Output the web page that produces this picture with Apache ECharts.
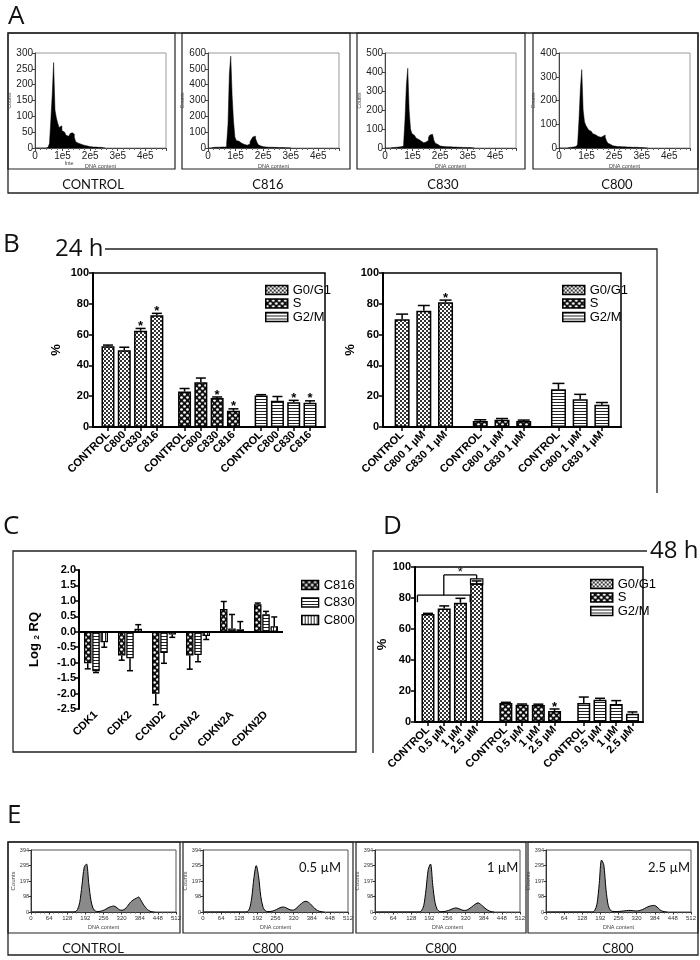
<!DOCTYPE html>
<html><head><meta charset="utf-8">
<script src="https://cdn.jsdelivr.net/npm/echarts@6/dist/echarts.min.js"></script>
<style>html,body{margin:0;padding:0;background:#fff}#c{width:700px;height:960px}</style>
</head><body><div id="c"></div>
<script>
// ================= DATA =================
// Panel A: flow cytometry histograms (bins of A_BIN, counts)
const A_LABELS = ['CONTROL','C816','C830','C800'];
const A_BIN = 5000;
const A_YMAX = [300,600,500,400];
const A_YSTEP = [50,100,100,100];
const A_CONTROL = [0,0,0,0,0,0,0,0,0,0, 2,15,90,170,270,120,95,78,65,70, 55,50,44,40,37,42,46,48,44,34, 20,15,12,12,10,9,8,7,6,5, 5,4,4,3,3,3,2,2,2,1, 1,0];
const A_C816 = [0,0,0,0,3,4,4,5,5,5, 6,6,6,8,25,150,470,580,330,170, 70,48,42,36,30,26,22,19,18,20, 26,40,55,70,75,60,36,20,12,10, 8,7,6,6,5,5,5,4,4,4, 4,3,3,3,3,3,2,2,2,2, 1,0];
const A_C830 = [0,0,0,0,0,0,2,3,3,4, 5,6,7,10,22,150,330,420,200,100, 76,66,60,52,45,40,35,30,28,28, 30,40,55,68,72,62,40,25,18,14, 11,9,8,8,7,7,6,6,6,5, 5,5,4,4,4,4,3,3,3,3, 2,2,2,1,1,0];
const A_C800 = [0,0,0,0,0,0,0,0,2,3, 4,5,6,8,16,120,250,330,160,110, 95,85,76,70,65,60,56,52,48,46, 45,48,50,55,45,30,20,15,12,10, 8,7,6,6,6,5,5,5,5,4, 4,4,4,3,3,3,3,3,2,2, 2,2,1,1,1,0];

// Panel B / D: cell-cycle phase percentages
const PHASES = ['G0/G1','S','G2/M'];
const B24_CATS = ['CONTROL','C800','C830','C816'];
const B24_G1 = [52.5,49.8,62.5,72.5], B24_G1_ERR = [0.7,2.0,1.5,1.3], B24_G1_SIG = [0,0,1,1];
const B24_S  = [23.0,29.0,18.8,10.5], B24_S_ERR  = [2.0,2.8,0.7,1.3], B24_S_SIG  = [0,0,1,1];
const B24_G2 = [20.5,17.0,16.0,15.8], B24_G2_ERR = [0.5,2.8,1.3,1.2], B24_G2_SIG = [0,0,1,1];

const B1UM_CATS = ['CONTROL','C800 1 µM','C830 1 µM'];
const B1UM_G1 = [70.0,75.5,81.0], B1UM_G1_ERR = [3.3,3.4,1.4], B1UM_G1_SIG = [0,0,1];
const B1UM_S  = [3.9,4.7,3.9],    B1UM_S_ERR  = [0.8,0.8,0.6], B1UM_S_SIG  = [0,0,0];
const B1UM_G2 = [24.5,18.0,14.5], B1UM_G2_ERR = [3.8,3.2,1.4], B1UM_G2_SIG = [0,0,0];

const D48_CATS = ['CONTROL','0.5 µM','1 µM','2.5 µM'];
const D48_G1 = [69.7,73.3,77.0,89.5], D48_G1_ERR = [0.4,1.6,2.8,1.5], D48_G1_SIG = [0,0,0,0];
const D48_S  = [12.3,11.2,11.0,7.1],  D48_S_ERR  = [0.4,0.4,0.5,1.3], D48_S_SIG  = [0,0,0,1];
const D48_G2 = [12.3,14.4,11.6,5.4],  D48_G2_ERR = [3.8,0.9,2.2,1.1], D48_G2_SIG = [0,0,0,0];

// Panel C: gene expression Log2 RQ
const C_GENES = ['CDK1','CDK2','CCND2','CCNA2','CDKN2A','CDKN2D'];
const C_NAMES = ['C816','C830','C800'];
const C_C816 = [-1.02,-0.77,-2.01,-0.77,0.74,0.89], C_C816_ERR = [0.18,0.15,0.35,0.44,0.24,0.04];
const C_C830 = [-1.28,-0.86,-0.69,-0.75,0.11,0.57], C_C830_ERR = [0.04,0.40,0.33,0.22,0.45,0.09];
const C_C800 = [-0.34,0.10,-0.09,-0.14,0.08,0.18],  C_C800_ERR = [0.16,0.13,0.09,0.11,0.25,0.30];

// Panel E: DNA content histograms (bins of E_BIN)
const E_LABELS = ['CONTROL','C800','C800','C800'];
const E_CONC = ['','0.5 µM','1 µM','2.5 µM'];
const E_BIN = 8;
const E_YTICKS = [0,98,197,295,394];
const E_CONTROL = [0,0,0,0,0,0,0,0,0,0, 0,0,0,0,0,0,0,0,0,2, 15,60,170,285,305,180,70,20,6,3, 4,8,14,22,30,35,38,32,20,12, 12,20,35,55,70,80,88,95,75,50, 30,15,5,1,0];
const E_05 = [0,0,0,0,0,0,0,0,0,0, 0,0,0,0,0,0,0,0,0,2, 20,90,220,295,230,100,30,8,3,3, 5,10,16,24,30,32,28,20,14,12, 16,28,42,55,65,68,62,50,35,20, 10,4,1,0];
const E_1 = [0,0,0,0,0,0,0,0,0,0, 0,0,0,0,0,0,0,0,0,0, 8,40,140,270,305,170,60,15,4,2, 3,6,10,16,22,26,24,18,12,10, 12,20,30,42,52,58,50,38,25,14, 6,2,0];
const E_25 = [0,0,0,0,0,0,0,0,0,0, 0,0,0,0,0,0,0,0,0,0, 0,10,50,180,330,300,140,40,10,4, 3,3,4,5,7,9,10,10,8,7, 7,10,15,22,30,36,40,42,38,25, 12,5,1,0];

// ================= STYLE HELPERS =================
const FF = '"Liberation Sans", Arial, sans-serif';
function mkPattern(w,h,draw){const c=document.createElement('canvas');c.width=w;c.height=h;const g=c.getContext('2d');draw(g);return {image:c,repeat:'repeat'};}
const PAT = {
  'G0/G1': mkPattern(4,4,g=>{g.fillStyle='#fff';g.fillRect(0,0,4,4);g.fillStyle='#333';g.fillRect(0,0,2,2);g.fillRect(2,2,2,2);}),
  'S': mkPattern(6,6,g=>{g.fillStyle='#111';g.fillRect(0,0,6,6);g.fillStyle='#fff';g.beginPath();g.arc(1.5,1.5,1.35,0,7);g.fill();g.beginPath();g.arc(4.5,4.5,1.35,0,7);g.fill();}),
  'G2/M': mkPattern(4,3,g=>{g.fillStyle='#fff';g.fillRect(0,0,4,3);g.fillStyle='#222';g.fillRect(0,0,4,1);}),
  'V': mkPattern(3,4,g=>{g.fillStyle='#fff';g.fillRect(0,0,3,4);g.fillStyle='#222';g.fillRect(0,0,1,4);})
};
const C_PAT = [PAT['S'], PAT['G2/M'], PAT['V']];

const option = {animation:false, textStyle:{fontFamily:FF}, grid:[], xAxis:[], yAxis:[], series:[], legend:[], graphic:{elements:[]}};
const G = option.graphic.elements;
function addGrid(g){option.grid.push(g);return option.grid.length-1;}

function errRenderer(capHalf, offsets){
  return function(params, api){
    const x=api.value(0), y=api.value(1), e=api.value(2), sig=api.value(3);
    const dx = offsets ? offsets[api.value(4)] : 0;
    const dir = y<0 ? -1 : 1;
    const p0=api.coord([x,y]), p1=api.coord([x,y+dir*e]);
    const X=p0[0]+dx;
    const ch=[
      {type:'line',shape:{x1:X,y1:p0[1],x2:X,y2:p1[1]},style:{stroke:'#000',lineWidth:1.5}},
      {type:'line',shape:{x1:X-capHalf,y1:p1[1],x2:X+capHalf,y2:p1[1]},style:{stroke:'#000',lineWidth:1.5}}
    ];
    if(sig) ch.push({type:'text',style:{text:'*',x:X,y:p1[1]-2,align:'center',verticalAlign:'middle',textAlign:'center',textVerticalAlign:'middle',font:'bold 13px '+FF,fill:'#000'}});
    return {type:'group',children:ch};
  };
}

// ================= PANEL A =================
const A_DATA=[A_CONTROL,A_C816,A_C830,A_C800];
const A_LEFT=[35,208,385,559];
A_DATA.forEach((arr,k)=>{
  const gi=addGrid({left:A_LEFT[k],top:53,width:131,height:95,show:true,borderColor:'#9a9a9a',borderWidth:1});
  option.xAxis.push({gridIndex:gi,type:'value',min:0,max:475000,interval:100000,
    axisLine:{onZero:false,lineStyle:{color:'#444',width:1}},axisTick:{length:3,lineStyle:{color:'#444'}},
    minorTick:{show:true,splitNumber:5,length:2,lineStyle:{color:'#666'}},splitLine:{show:false},
    axisLabel:{fontSize:10,color:'#222',margin:3,formatter:v=>v%100000?'':(v===0?'0':(v/100000)+'e5')},
    name:'DNA content',nameLocation:'middle',nameGap:15,nameTextStyle:{fontSize:5.5,color:'#444'}});
  option.yAxis.push({gridIndex:gi,type:'value',min:0,max:A_YMAX[k],interval:A_YSTEP[k],
    axisLine:{show:true,onZero:false,lineStyle:{color:'#444',width:1}},axisTick:{show:true,length:3,lineStyle:{color:'#444'}},
    splitLine:{show:false},axisLabel:{fontSize:10,color:'#222',margin:2},
    name:'Counts',nameLocation:'middle',nameGap:17,nameTextStyle:{fontSize:5,color:'#444'}});
  option.series.push({type:'line',xAxisIndex:gi,yAxisIndex:gi,step:'middle',symbol:'none',silent:true,
    data:arr.map((v,i)=>[i*A_BIN,v]),lineStyle:{color:'#000',width:0.5},areaStyle:{color:'#000',opacity:1}});
});
G.push({type:'rect',shape:{x:8,y:33,width:690,height:160},style:{fill:'none',stroke:'#222',lineWidth:1.3},silent:true});
[[8,167],[182,168],[357,168],[533,165]].forEach(([x,w])=>G.push({type:'rect',shape:{x:x,y:33,width:w,height:136},style:{fill:'none',stroke:'#222',lineWidth:1.2},silent:true}));
const A_LBLX=[93,268,443,617];
A_LABELS.forEach((t,k)=>G.push({type:'text',x:A_LBLX[k],y:185,style:{text:t,fontSize:13,fontFamily:'Lato',fill:'#111',align:'center',verticalAlign:'middle'},silent:true}));
G.push({type:'text',x:69,y:163,style:{text:'Inte',fontSize:5.5,fill:'#444',align:'center',verticalAlign:'middle'},silent:true});

// ================= BAR PANELS (B, D) =================
function barPanel(p){
  const nPer=p.cats.length;
  const pos=p.groups.map((_,g)=>p.cats.map((_,i)=>g*(nPer+p.gap)+i));
  const flat=pos.flat();
  const lab={};pos.forEach(pp=>pp.forEach((x,i)=>lab[x.toFixed(2)]=p.cats[i]));
  const gi=addGrid({left:p.left,top:p.top,width:p.width,height:p.height,show:true,borderColor:'#000',borderWidth:1.5});
  option.xAxis.push({gridIndex:gi,type:'value',min:-p.mL,max:flat[flat.length-1]+p.mR,splitLine:{show:false},
    axisLine:{onZero:false,lineStyle:{color:'#000',width:2}},
    axisTick:{customValues:flat,length:4,lineStyle:{color:'#000',width:1.5}},
    axisLabel:{customValues:flat,formatter:v=>lab[(+v).toFixed(2)]||'',rotate:45,fontWeight:'bold',fontSize:11,color:'#000',margin:6}});
  option.yAxis.push({gridIndex:gi,type:'value',min:0,max:100,interval:20,splitLine:{show:false},
    axisLine:{show:true,onZero:false,lineStyle:{color:'#000',width:2}},axisTick:{show:true,length:4,lineStyle:{color:'#000',width:1.5}},
    axisLabel:{fontWeight:'bold',fontSize:11,color:'#000',margin:4},
    name:'%',nameLocation:'middle',nameGap:p.nameGap,nameTextStyle:{fontWeight:'bold',fontSize:13,color:'#000'}});
  p.groups.forEach((grp,g)=>option.series.push({type:'bar',name:PHASES[g],xAxisIndex:gi,yAxisIndex:gi,barWidth:p.barW,barGap:'-100%',
    itemStyle:{color:PAT[PHASES[g]],borderColor:'#000',borderWidth:1.5},data:grp.v.map((v,i)=>[pos[g][i],v])}));
  option.series.push({type:'custom',xAxisIndex:gi,yAxisIndex:gi,z:5,silent:true,renderItem:errRenderer(p.cap),
    data:p.groups.flatMap((grp,g)=>grp.v.map((v,i)=>[pos[g][i],v,grp.e[i],grp.s[i]]))});
  option.legend.push({data:PHASES,orient:'vertical',left:p.leg[0],top:p.leg[1],itemWidth:22,itemHeight:9,itemGap:0.5,icon:'rect',selectedMode:false,
    itemStyle:{borderColor:'#000',borderWidth:1.5},textStyle:{fontSize:13,color:'#000',lineHeight:11}});
  return {gi,pos};
}
barPanel({left:93,top:273,width:232,height:154,cats:B24_CATS,gap:0.7,mL:0.92,mR:0.92,barW:13,cap:5,nameGap:30,leg:[260,278.5],
  groups:[{v:B24_G1,e:B24_G1_ERR,s:B24_G1_SIG},{v:B24_S,e:B24_S_ERR,s:B24_S_SIG},{v:B24_G2,e:B24_G2_ERR,s:B24_G2_SIG}]});
barPanel({left:383,top:273,width:238,height:154,cats:B1UM_CATS,gap:0.6,mL:0.88,mR:0.88,barW:15,cap:6,nameGap:24,leg:[557,278.5],
  groups:[{v:B1UM_G1,e:B1UM_G1_ERR,s:B1UM_G1_SIG},{v:B1UM_S,e:B1UM_S_ERR,s:B1UM_S_SIG},{v:B1UM_G2,e:B1UM_G2_ERR,s:B1UM_G2_SIG}]});
const D=barPanel({left:415,top:567,width:228,height:155,cats:D48_CATS,gap:0.8,mL:0.8,mR:0.65,barW:13,cap:5,nameGap:25,leg:[585,572.5],
  groups:[{v:D48_G1,e:D48_G1_ERR,s:D48_G1_SIG},{v:D48_S,e:D48_S_ERR,s:D48_S_SIG},{v:D48_G2,e:D48_G2_ERR,s:D48_G2_SIG}]});
// D significance bracket (derived from G0/G1 data)
(function(){
  const p=D.pos[0];
  const yMid=Math.max(...[0,1,2].map(i=>D48_G1[i]+D48_G1_ERR[i]))+2;
  const boxTop=D48_G1[3]+D48_G1_ERR[3]+1.3, boxBot=D48_G1[3]-0.5;
  const yTop=boxTop+2.6;
  option.series.push({type:'custom',xAxisIndex:D.gi,yAxisIndex:D.gi,z:6,silent:true,data:[[p[0],yMid]],
    renderItem:function(params,api){
      const P=(x,y)=>api.coord([x,y]);
      const bx0=p[0]-0.65,bx1=p[2]+0.6,mid=(bx0+bx1)/2,t=p[3];
      const L=(a,b)=>({type:'line',shape:{x1:a[0],y1:a[1],x2:b[0],y2:b[1]},style:{stroke:'#000',lineWidth:1.3}});
      const r0=P(t-0.38,boxTop),r1=P(t+0.38,boxBot);
      const s=P((mid+t)/2,yTop);
      return {type:'group',children:[
        L(P(bx0,yMid-4.5),P(bx0,yMid)),L(P(bx0,yMid),P(bx1,yMid)),L(P(bx1,yMid),P(bx1,yMid-4.5)),
        L(P(mid,yMid),P(mid,yTop)),L(P(mid,yTop),P(t,yTop)),L(P(t,yTop),P(t,boxTop)),
        {type:'rect',shape:{x:r0[0],y:r0[1],width:r1[0]-r0[0],height:r1[1]-r0[1]},style:{fill:'none',stroke:'#000',lineWidth:1.2}},
        {type:'text',style:{text:'*',x:s[0],y:s[1]-2,align:'center',verticalAlign:'middle',textAlign:'center',textVerticalAlign:'middle',font:'13px '+FF,fill:'#000'}}
      ]};
    }});
})();

// ================= PANEL C =================
(function(){
  const gi=addGrid({left:79,top:570,width:204,height:139});
  option.xAxis.push({gridIndex:gi,type:'category',data:C_GENES,axisLine:{show:false,onZero:false},axisTick:{show:false},
    axisLabel:{rotate:45,interval:0,fontWeight:'bold',fontSize:11,color:'#000',margin:4}});
  option.yAxis.push({gridIndex:gi,type:'value',min:-2.5,max:2,interval:0.5,splitLine:{show:false},
    axisLine:{show:true,onZero:false,lineStyle:{color:'#000',width:2}},axisTick:{show:true,length:4,lineStyle:{color:'#000',width:1.5}},
    axisLabel:{fontWeight:'bold',fontSize:11,color:'#000',margin:3,formatter:v=>(+v).toFixed(1)},
    name:'Log {s|2} RQ',nameLocation:'middle',nameGap:38,
    nameTextStyle:{fontWeight:'bold',fontSize:13,color:'#000',rich:{s:{fontSize:8,fontWeight:'bold',verticalAlign:'bottom',color:'#000'}}}});
  const vals=[C_C816,C_C830,C_C800], errs=[C_C816_ERR,C_C830_ERR,C_C800_ERR];
  const bw=7.5;
  vals.forEach((v,k)=>{
    const s={type:'bar',name:C_NAMES[k],xAxisIndex:gi,yAxisIndex:gi,barWidth:bw,barGap:'10%',
      itemStyle:{color:C_PAT[k],borderColor:'#000',borderWidth:1.3},data:v};
    if(k===0) s.markLine={silent:true,symbol:'none',label:{show:false},lineStyle:{color:'#000',width:2,type:'solid'},data:[{yAxis:0}]};
    option.series.push(s);
  });
  const step=bw*1.1;
  option.series.push({type:'custom',xAxisIndex:gi,yAxisIndex:gi,z:5,silent:true,renderItem:errRenderer(3,[-step,0,step]),
    data:vals.flatMap((v,k)=>v.map((y,i)=>[i,y,errs[k][i],0,k]))});
  option.legend.push({data:C_NAMES,orient:'vertical',left:296,top:573.5,itemWidth:17,itemHeight:9,itemGap:4.5,icon:'rect',selectedMode:false,
    itemStyle:{borderColor:'#000',borderWidth:1.3},textStyle:{fontSize:13,color:'#000',lineHeight:11}});
})();

// ================= PANEL E =================
const E_DATA=[E_CONTROL,E_05,E_1,E_25];
const E_LEFT=[31,203,375,546];
E_DATA.forEach((arr,k)=>{
  const gi=addGrid({left:E_LEFT[k],top:850,width:145,height:62,show:true,borderColor:'#555',borderWidth:1});
  option.xAxis.push({gridIndex:gi,type:'value',min:0,max:512,interval:64,splitLine:{show:false},
    axisLine:{onZero:false,lineStyle:{color:'#333',width:1}},axisTick:{length:2.5,lineStyle:{color:'#333'}},
    minorTick:{show:true,splitNumber:4,length:1.5,lineStyle:{color:'#555'}},
    axisLabel:{fontSize:6,color:'#333',margin:3},
    name:'DNA content',nameLocation:'middle',nameGap:12,nameTextStyle:{fontSize:5.5,color:'#444'}});
  option.yAxis.push({gridIndex:gi,type:'value',min:0,max:394,splitLine:{show:false},
    axisLine:{show:true,onZero:false,lineStyle:{color:'#333',width:1}},
    axisTick:{show:true,length:2.5,customValues:E_YTICKS,lineStyle:{color:'#333'}},
    axisLabel:{fontSize:5.5,color:'#333',margin:2,customValues:E_YTICKS},
    name:'Counts',nameLocation:'middle',nameGap:12,nameTextStyle:{fontSize:6,color:'#444'}});
  option.series.push({type:'line',xAxisIndex:gi,yAxisIndex:gi,smooth:0.3,symbol:'none',silent:true,
    data:arr.map((v,i)=>[i*E_BIN+E_BIN/2,v]),lineStyle:{color:'#000',width:1},areaStyle:{color:'#8a8a8a',opacity:1}});
});
G.push({type:'rect',shape:{x:8,y:842,width:690,height:113},style:{fill:'none',stroke:'#222',lineWidth:1.3},silent:true});
[[8,172],[183,170],[356,170],[528,170]].forEach(([x,w])=>G.push({type:'rect',shape:{x:x,y:842,width:w,height:91},style:{fill:'none',stroke:'#222',lineWidth:1.2},silent:true}));
const E_LBLX=[93,268,441,618];
E_LABELS.forEach((t,k)=>G.push({type:'text',x:E_LBLX[k],y:949,style:{text:t,fontSize:13,fontFamily:'Lato',fill:'#111',align:'center',verticalAlign:'middle'},silent:true}));
const E_CX=[0,299,487,648];
E_CONC.forEach((t,k)=>{if(t)G.push({type:'text',x:E_CX[k],y:868,style:{text:t,fontSize:13,fontFamily:'Lato',fill:'#111',align:'left',verticalAlign:'middle'},silent:true});});

// ================= FRAMES / LETTERS =================
const LET=[['A',8,4],['B',3,232],['C',3,514],['D',383,514],['E',7,803]];
LET.forEach(([t,x,y])=>G.push({type:'text',x:x,y:y,style:{text:t,fontSize:26,fontFamily:'"Open Sans"',fill:'#111',align:'left',verticalAlign:'top'},silent:true}));
G.push({type:'text',x:55,y:249,style:{text:'24 h',fontSize:24,fontFamily:'"Open Sans"',fill:'#111',align:'left',verticalAlign:'middle'},silent:true});
G.push({type:'polyline',shape:{points:[[105,249],[657,249],[657,493]]},style:{fill:'none',stroke:'#222',lineWidth:1.3},silent:true});
G.push({type:'rect',shape:{x:13,y:551,width:343,height:201},style:{fill:'none',stroke:'#222',lineWidth:1.3},silent:true});
G.push({type:'polyline',shape:{points:[[647,551],[373,551],[373,753]]},style:{fill:'none',stroke:'#222',lineWidth:1.3},silent:true});
G.push({type:'text',x:650,y:551,style:{text:'48 h',fontSize:24,fontFamily:'"Open Sans"',fill:'#111',align:'left',verticalAlign:'middle'},silent:true});

const chart=echarts.init(document.getElementById('c'),null,{renderer:'canvas'});
chart.setOption(option);
</script></body></html>
